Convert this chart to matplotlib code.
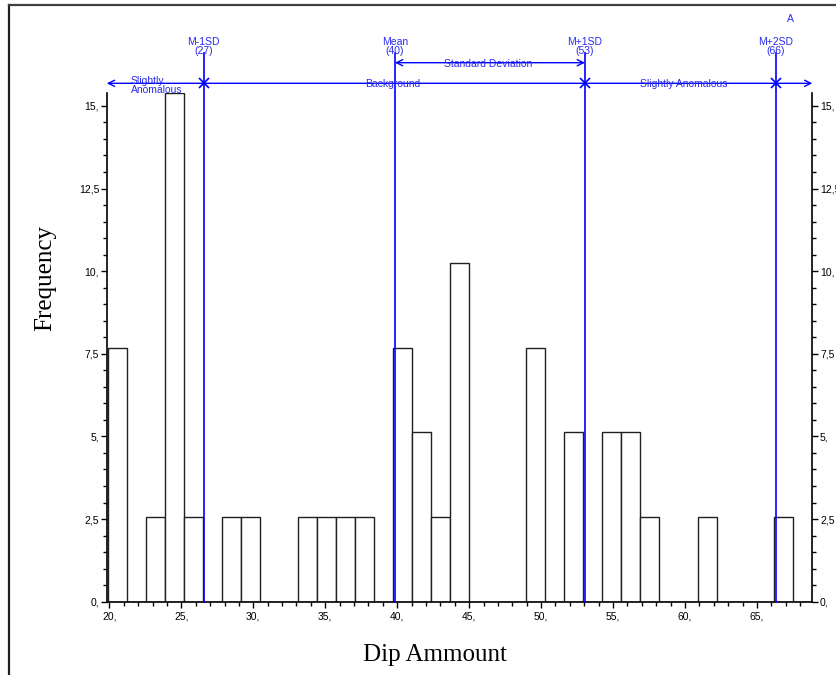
import numpy as np
import matplotlib
matplotlib.use('Agg')
from matplotlib import pyplot as plt
from matplotlib.lines import Line2D

# histogram of dip amounts (frequency in %)
bin_left = 19.87
bin_width = 1.3225
freq = [7.69, 0, 2.56, 15.38, 2.56, 0, 2.56, 2.56, 0, 0,
        2.56, 2.56, 2.56, 2.56, 0, 7.69, 5.13, 2.56, 10.26, 0,
        0, 0, 7.69, 0, 5.13, 0, 5.13, 5.13, 2.56, 0,
        0, 2.56, 0, 0, 0, 2.56, 0]

# statistics lines
stat_x = [26.55, 39.84, 53.05, 66.33]
stat_labels = ['M-1SD\n(27)', 'Mean\n(40)', 'M+1SD\n(53)', 'M+2SD\n(66)']
zone_labels = ['Slightly\nAnomalous', 'Background', 'Slightly Anomalous']

xticks = [20, 25, 30, 35, 40, 45, 50, 55, 60, 65]
xtick_labels = ['20,', '25,', '30,', '35,', '40,', '45,', '50,', '55,', '60,', '65,']
yticks = [0, 2.5, 5, 7.5, 10, 12.5, 15]
ytick_labels = ['0,', '2,5', '5,', '7,5', '10,', '12,5', '15,']

sans = 'Liberation Sans'
serif = 'Liberation Serif'
blue = '#0000ff'
tblue = '#2a2af0'

W, H = 837, 675
fig = plt.figure(figsize=(W/100, H/100), dpi=100)
ax_l, ax_r, ax_b, ax_t = 107.5, 811.7, 601.7, 93.3
ax = fig.add_axes([ax_l/W, 1-ax_b/H, (ax_r-ax_l)/W, (ax_b-ax_t)/H])

n = len(freq)
lefts = bin_left + bin_width*np.arange(n)
ax.bar(lefts, freq, width=bin_width, align='edge', facecolor='white',
       edgecolor='#202020', linewidth=1.0, zorder=2)

xmin, xmax = bin_left, bin_left + bin_width*n
ymax = 15.38
ax.set_xlim(xmin, xmax)
ax.set_ylim(0, ymax)

ax.spines['top'].set_visible(False)
for s in ['left', 'right', 'bottom']:
    ax.spines[s].set_linewidth(1.2)
    ax.spines[s].set_color('black')

ax.set_xticks(xticks)
ax.set_xticklabels(xtick_labels, fontsize=7.5, family=sans)
ax.set_xticks(np.arange(20, 69, 1), minor=True)
ax.set_yticks(yticks)
ax.set_yticklabels(ytick_labels, fontsize=7.5, family=sans)
ax.set_yticks(np.arange(0, 15.4, 0.5), minor=True)
ax.tick_params(axis='y', which='both', left=True, right=True,
               labelleft=True, labelright=True, direction='out', pad=2)
ax.tick_params(axis='x', which='both', direction='out', pad=3)
ax.tick_params(which='major', length=4, width=1)
ax.tick_params(which='minor', length=3, width=1)

# pixel -> data y helper
pxu = (ax_b - ax_t) / ymax
def ydat(py):
    return (ax_b - py) / pxu

# vertical stat lines with labels
for x, lab in zip(stat_x, stat_labels):
    ax.plot([x, x], [0, ydat(53)], color=blue, lw=1.2, clip_on=False, zorder=3)
    ax.text(x, ydat(56), lab, ha='center', va='bottom', fontsize=7.5,
            family=sans, color=tblue, linespacing=0.85)

# main zone arrow line
yl = ydat(83.3)
ax.annotate('', xy=(xmin - 0.05, yl), xytext=(xmax + 0.05, yl),
            arrowprops=dict(arrowstyle='<->,head_length=0.45,head_width=0.22',
                            color=blue, lw=1.0, shrinkA=0, shrinkB=0),
            annotation_clip=False)
ax.plot([stat_x[0], stat_x[2], stat_x[3]], [yl]*3, 'x', color=blue,
        markersize=7, mew=1.2, clip_on=False)

ax.text(21.5, ydat(85.5), zone_labels[0], ha='left', va='center', fontsize=7.5,
        family=sans, color=tblue, linespacing=0.85)
ax.text(39.7, ydat(84.5), zone_labels[1], ha='center', va='center', fontsize=7.5,
        family=sans, color=tblue)
ax.text(59.9, ydat(84.5), zone_labels[2], ha='center', va='center', fontsize=7.5,
        family=sans, color=tblue)

# standard deviation arrow
ysd = ydat(62.7)
ax.annotate('', xy=(stat_x[1], ysd), xytext=(stat_x[2], ysd),
            arrowprops=dict(arrowstyle='<->,head_length=0.45,head_width=0.22',
                            color=blue, lw=1.0, shrinkA=0, shrinkB=0),
            annotation_clip=False)
ax.text(46.3, ydat(64), 'Standard Deviation', ha='center', va='center',
        fontsize=7.5, family=sans, color=tblue)

fig.text(790/W, 1-19/H, 'A', ha='center', va='center', fontsize=7.5,
         family=sans, color=tblue)

fig.text(45/W, 1-278/H, 'Frequency', rotation=90, ha='center', va='center',
         fontsize=18, family=serif)
fig.text(435/W, 1-655/H, 'Dip Ammount', ha='center', va='center',
         fontsize=18, family=serif)

# outer frame
fig.add_artist(Line2D([9/W, 9/W], [0, 1-5/H], color='#202020', lw=1.6,
                      transform=fig.transFigure))
fig.add_artist(Line2D([9/W, 1], [1-5/H, 1-5/H], color='#404040', lw=1.6,
                      transform=fig.transFigure))

fig.savefig('out.png', dpi=100)
